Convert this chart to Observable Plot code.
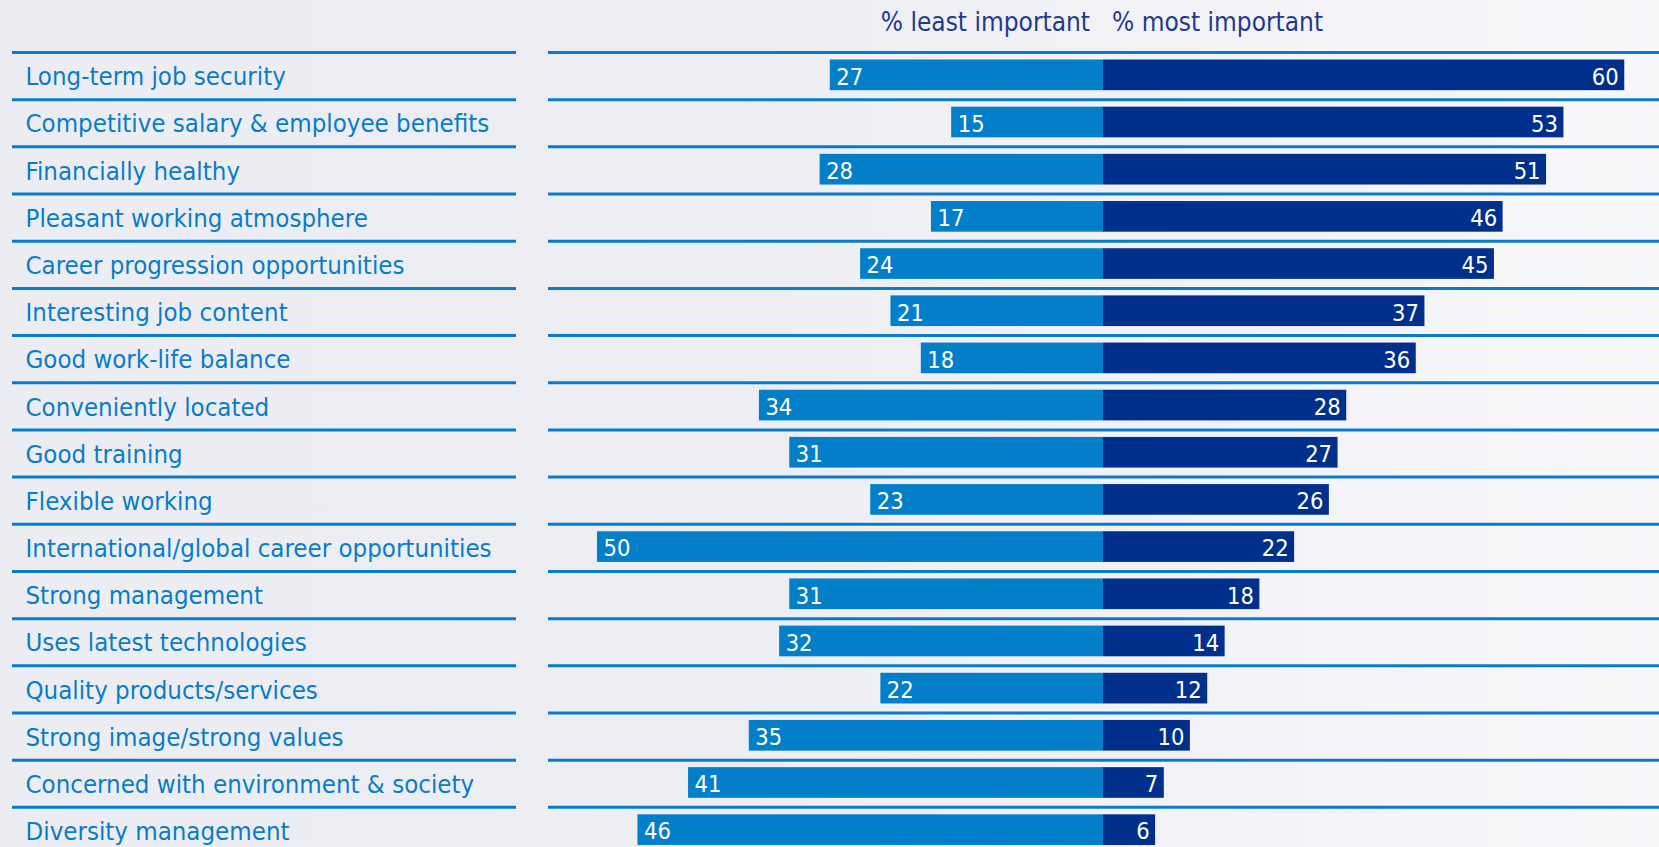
<!DOCTYPE html>
<html>
<head>
<meta charset="utf-8">
<script src="https://cdn.jsdelivr.net/npm/d3@7"></script>
<script src="https://cdn.jsdelivr.net/npm/@observablehq/plot@0.6"></script>
<style>
  html, body { margin: 0; padding: 0; width: 1659px; height: 847px; overflow: hidden; }
  body {
    background: linear-gradient(90deg, #ECEDF3 0%, #EDEEF3 45%, #F4F4F8 80%, #F8F8FB 100%);
    font-family: "DejaVu Sans Condensed", "DejaVu Sans", sans-serif;
    position: relative;
  }
  .abs { position: absolute; }
  .hdr { position: absolute; top: 6px; font-size: 26px; color: #1F3A8C; white-space: nowrap; line-height: 32px; }
</style>
</head>
<body>
<div class="hdr" id="hL" style="right: 569px; text-align: right;"></div>
<div class="hdr" id="hR" style="left: 1112px;"></div>
<div class="abs" id="labels" style="left: 0px;"></div>
<div class="abs" id="left" style="left: 548px;"></div>
<div class="abs" id="right" style="left: 1103px;"></div>
<script>
// ---- data ----
const categories = [
  "Long-term job security",
  "Competitive salary & employee benefits",
  "Financially healthy",
  "Pleasant working atmosphere",
  "Career progression opportunities",
  "Interesting job content",
  "Good work-life balance",
  "Conveniently located",
  "Good training",
  "Flexible working",
  "International/global career opportunities",
  "Strong management",
  "Uses latest technologies",
  "Quality products/services",
  "Strong image/strong values",
  "Concerned with environment & society",
  "Diversity management"
];
const leastImportant = [27, 15, 28, 17, 24, 21, 18, 34, 31, 23, 50, 31, 32, 22, 35, 41, 46];
const mostImportant  = [60, 53, 51, 46, 45, 37, 36, 28, 27, 26, 22, 18, 14, 12, 10, 7, 6];
const headerLeft = "% least important";
const headerRight = "% most important";

// ---- layout / style ----
const BLUE = "#087CC8";
const LEFTBAR = "#037EC9";
const RIGHTBAR = "#00308C";
const ROW = 47.15;
const MT = 4;
const TOP = 51.5 - MT;
const H = Math.ceil(MT + categories.length * ROW);
const FONT = '"DejaVu Sans Condensed", "DejaVu Sans", sans-serif';

const rows = categories.map((c, i) => ({cat: c, least: leastImportant[i], most: mostImportant[i]}));

document.getElementById("hL").textContent = headerLeft;
document.getElementById("hR").textContent = headerRight;
for (const id of ["labels", "left", "right"]) document.getElementById(id).style.top = TOP + "px";

const yScale = {type: "band", domain: categories, padding: 0, round: false, axis: null};
const sepRule = Plot.ruleY(categories, {y: d => d, stroke: BLUE, strokeWidth: 3, dy: -ROW / 2});
const baseStyle = {background: "transparent", overflow: "visible", fontFamily: FONT};

// labels column
const labelsPlot = Plot.plot({
  width: 530, height: H,
  marginLeft: 12, marginRight: 14, marginTop: MT, marginBottom: 0,
  x: {domain: [0, 1], axis: null},
  y: yScale,
  style: baseStyle,
  marks: [
    sepRule,
    Plot.text(categories, {y: d => d, text: d => d, frameAnchor: "left", textAnchor: "start",
      dx: 13, dy: 1, fill: BLUE, fontSize: 25.6})
  ]
});
document.getElementById("labels").appendChild(labelsPlot);

// least important (left, reversed)
const leftPlot = Plot.plot({
  width: 555, height: H,
  marginLeft: 0, marginRight: 0, marginTop: MT, marginBottom: 0,
  x: {domain: [0, 54.84], reverse: true, axis: null},
  y: yScale,
  style: baseStyle,
  marks: [
    sepRule,
    Plot.barX(rows, {x: "least", y: "cat", fill: LEFTBAR, insetTop: 7.5, insetBottom: 9}),
    Plot.text(rows, {x: "least", y: "cat", text: d => String(d.least), textAnchor: "start",
      dx: 6, dy: 1, fill: "white", fontSize: 23.5})
  ]
});
document.getElementById("left").appendChild(leftPlot);

// most important (right)
const rightPlot = Plot.plot({
  width: 556, height: H,
  marginLeft: 0, marginRight: 0, marginTop: MT, marginBottom: 0,
  x: {domain: [0, 64.0], axis: null},
  y: yScale,
  style: baseStyle,
  marks: [
    sepRule,
    Plot.barX(rows, {x: "most", y: "cat", fill: RIGHTBAR, insetTop: 7.5, insetBottom: 9}),
    Plot.text(rows, {x: "most", y: "cat", text: d => String(d.most), textAnchor: "end",
      dx: -6, dy: 1, fill: "white", fontSize: 23.5})
  ]
});
document.getElementById("right").appendChild(rightPlot);
</script>
</body>
</html>
